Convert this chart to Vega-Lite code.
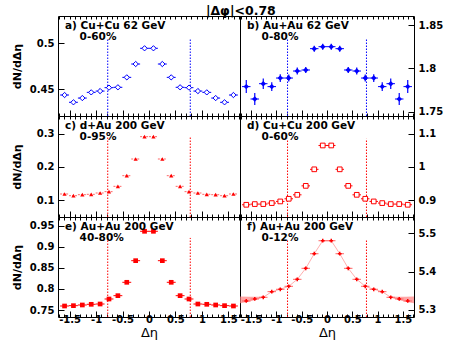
{
  "$schema": "https://vega.github.io/schema/vega-lite/v6.json",
  "background": "white",
  "padding": {"left": 10, "top": 4, "right": 5, "bottom": 5},
  "title": {"text": "|Δφ|<0.78", "font": "DejaVu Sans", "fontSize": 12.5, "fontWeight": "bold", "anchor": "middle", "frame": "bounds", "color": "black", "offset": -2, "dx": 14, "lineHeight": 13},
  "config": {
    "view": {"stroke": "black", "strokeWidth": 1},
    "font": "DejaVu Sans",
    "axis": {"labelFont": "DejaVu Sans", "labelFontWeight": "bold", "labelFontSize": 10, "labelColor": "black", "tickColor": "black", "grid": false, "domain": false, "titleFont": "DejaVu Sans", "titleColor": "black", "labelOverlap": false, "labelFlush": false, "labelBound": false}
  },
  "datasets": {
    "a": [
      {"x": -1.596, "y": 0.4438, "ex": 0.084, "ey": 0.0025}, {"x": -1.428, "y": 0.4359, "ex": 0.084, "ey": 0.0025}, {"x": -1.26, "y": 0.4405, "ex": 0.084, "ey": 0.0025}, {"x": -1.092, "y": 0.4467, "ex": 0.084, "ey": 0.0025}, {"x": -0.924, "y": 0.4481, "ex": 0.084, "ey": 0.0025},
      {"x": -0.756, "y": 0.4518, "ex": 0.084, "ey": 0.0025}, {"x": -0.588, "y": 0.4522, "ex": 0.084, "ey": 0.0025}, {"x": -0.42, "y": 0.463, "ex": 0.084, "ey": 0.0025}, {"x": -0.252, "y": 0.4775, "ex": 0.084, "ey": 0.0025}, {"x": -0.084, "y": 0.4946, "ex": 0.084, "ey": 0.0025},
      {"x": 0.084, "y": 0.4946, "ex": 0.084, "ey": 0.0025}, {"x": 0.252, "y": 0.4775, "ex": 0.084, "ey": 0.0025}, {"x": 0.42, "y": 0.463, "ex": 0.084, "ey": 0.0025}, {"x": 0.588, "y": 0.4522, "ex": 0.084, "ey": 0.0025}, {"x": 0.756, "y": 0.4518, "ex": 0.084, "ey": 0.0025},
      {"x": 0.924, "y": 0.4481, "ex": 0.084, "ey": 0.0025}, {"x": 1.092, "y": 0.4467, "ex": 0.084, "ey": 0.0025}, {"x": 1.26, "y": 0.4405, "ex": 0.084, "ey": 0.0025}, {"x": 1.428, "y": 0.4359, "ex": 0.084, "ey": 0.0025}, {"x": 1.596, "y": 0.4438, "ex": 0.084, "ey": 0.0025}
    ],
    "b": [
      {"x": -1.596, "y": 1.7789, "ex": 0.084, "ey": 0.0075}, {"x": -1.428, "y": 1.7646, "ex": 0.084, "ey": 0.007}, {"x": -1.26, "y": 1.7823, "ex": 0.084, "ey": 0.006}, {"x": -1.092, "y": 1.7789, "ex": 0.084, "ey": 0.005}, {"x": -0.924, "y": 1.7888, "ex": 0.084, "ey": 0.0045},
      {"x": -0.756, "y": 1.7888, "ex": 0.084, "ey": 0.004}, {"x": -0.588, "y": 1.7969, "ex": 0.084, "ey": 0.004}, {"x": -0.42, "y": 1.7981, "ex": 0.084, "ey": 0.0035}, {"x": -0.252, "y": 1.8227, "ex": 0.084, "ey": 0.0035}, {"x": -0.084, "y": 1.825, "ex": 0.084, "ey": 0.0035},
      {"x": 0.084, "y": 1.825, "ex": 0.084, "ey": 0.0035}, {"x": 0.252, "y": 1.8227, "ex": 0.084, "ey": 0.0035}, {"x": 0.42, "y": 1.7981, "ex": 0.084, "ey": 0.0035}, {"x": 0.588, "y": 1.7969, "ex": 0.084, "ey": 0.004}, {"x": 0.756, "y": 1.7888, "ex": 0.084, "ey": 0.004},
      {"x": 0.924, "y": 1.7888, "ex": 0.084, "ey": 0.0045}, {"x": 1.092, "y": 1.7789, "ex": 0.084, "ey": 0.005}, {"x": 1.26, "y": 1.7823, "ex": 0.084, "ey": 0.006}, {"x": 1.428, "y": 1.7646, "ex": 0.084, "ey": 0.007}, {"x": 1.596, "y": 1.7789, "ex": 0.084, "ey": 0.0075}
    ],
    "c": [
      {"x": -1.596, "y": 0.1182, "ex": 0.084}, {"x": -1.428, "y": 0.113, "ex": 0.084}, {"x": -1.26, "y": 0.1161, "ex": 0.084}, {"x": -1.092, "y": 0.1172, "ex": 0.084}, {"x": -0.924, "y": 0.1212, "ex": 0.084},
      {"x": -0.756, "y": 0.1253, "ex": 0.084}, {"x": -0.588, "y": 0.1414, "ex": 0.084}, {"x": -0.42, "y": 0.1737, "ex": 0.084}, {"x": -0.252, "y": 0.2242, "ex": 0.084}, {"x": -0.084, "y": 0.2919, "ex": 0.084},
      {"x": 0.084, "y": 0.2919, "ex": 0.084}, {"x": 0.252, "y": 0.2242, "ex": 0.084}, {"x": 0.42, "y": 0.1737, "ex": 0.084}, {"x": 0.588, "y": 0.1414, "ex": 0.084}, {"x": 0.756, "y": 0.1253, "ex": 0.084},
      {"x": 0.924, "y": 0.1212, "ex": 0.084}, {"x": 1.092, "y": 0.1172, "ex": 0.084}, {"x": 1.26, "y": 0.1161, "ex": 0.084}, {"x": 1.428, "y": 0.113, "ex": 0.084}, {"x": 1.596, "y": 0.1182, "ex": 0.084}
    ],
    "d": [
      {"x": -1.596, "y": 0.8859, "ex": 0.084}, {"x": -1.428, "y": 0.888, "ex": 0.084}, {"x": -1.26, "y": 0.888, "ex": 0.084}, {"x": -1.092, "y": 0.891, "ex": 0.084}, {"x": -0.924, "y": 0.896, "ex": 0.084},
      {"x": -0.756, "y": 0.904, "ex": 0.084}, {"x": -0.588, "y": 0.916, "ex": 0.084}, {"x": -0.42, "y": 0.943, "ex": 0.084}, {"x": -0.252, "y": 0.993, "ex": 0.084}, {"x": -0.084, "y": 1.065, "ex": 0.084},
      {"x": 0.084, "y": 1.065, "ex": 0.084}, {"x": 0.252, "y": 0.993, "ex": 0.084}, {"x": 0.42, "y": 0.943, "ex": 0.084}, {"x": 0.588, "y": 0.916, "ex": 0.084}, {"x": 0.756, "y": 0.904, "ex": 0.084},
      {"x": 0.924, "y": 0.896, "ex": 0.084}, {"x": 1.092, "y": 0.891, "ex": 0.084}, {"x": 1.26, "y": 0.888, "ex": 0.084}, {"x": 1.428, "y": 0.888, "ex": 0.084}, {"x": 1.596, "y": 0.8859, "ex": 0.084}
    ],
    "e": [
      {"x": -1.596, "y": 0.7595, "ex": 0.084}, {"x": -1.428, "y": 0.7603, "ex": 0.084}, {"x": -1.26, "y": 0.7619, "ex": 0.084}, {"x": -1.092, "y": 0.7635, "ex": 0.084}, {"x": -0.924, "y": 0.7642, "ex": 0.084},
      {"x": -0.756, "y": 0.7761, "ex": 0.084}, {"x": -0.588, "y": 0.784, "ex": 0.084}, {"x": -0.42, "y": 0.8157, "ex": 0.084}, {"x": -0.252, "y": 0.867, "ex": 0.084}, {"x": -0.084, "y": 0.9367, "ex": 0.084},
      {"x": 0.084, "y": 0.9367, "ex": 0.084}, {"x": 0.252, "y": 0.867, "ex": 0.084}, {"x": 0.42, "y": 0.8157, "ex": 0.084}, {"x": 0.588, "y": 0.784, "ex": 0.084}, {"x": 0.756, "y": 0.7761, "ex": 0.084},
      {"x": 0.924, "y": 0.7642, "ex": 0.084}, {"x": 1.092, "y": 0.7635, "ex": 0.084}, {"x": 1.26, "y": 0.7619, "ex": 0.084}, {"x": 1.428, "y": 0.7603, "ex": 0.084}, {"x": 1.596, "y": 0.7595, "ex": 0.084}
    ],
    "f": [
      {"x": -1.596, "y": 5.3235, "ex": 0.084}, {"x": -1.428, "y": 5.3287, "ex": 0.084}, {"x": -1.26, "y": 5.3331, "ex": 0.084}, {"x": -1.092, "y": 5.3478, "ex": 0.084}, {"x": -0.924, "y": 5.354, "ex": 0.084},
      {"x": -0.756, "y": 5.3618, "ex": 0.084}, {"x": -0.588, "y": 5.38, "ex": 0.084}, {"x": -0.42, "y": 5.4087, "ex": 0.084}, {"x": -0.252, "y": 5.4468, "ex": 0.084}, {"x": -0.084, "y": 5.4807, "ex": 0.084},
      {"x": 0.084, "y": 5.4807, "ex": 0.084}, {"x": 0.252, "y": 5.4468, "ex": 0.084}, {"x": 0.42, "y": 5.4087, "ex": 0.084}, {"x": 0.588, "y": 5.38, "ex": 0.084}, {"x": 0.756, "y": 5.3618, "ex": 0.084},
      {"x": 0.924, "y": 5.354, "ex": 0.084}, {"x": 1.092, "y": 5.3478, "ex": 0.084}, {"x": 1.26, "y": 5.3331, "ex": 0.084}, {"x": 1.428, "y": 5.3287, "ex": 0.084}, {"x": 1.596, "y": 5.3235, "ex": 0.084}
    ],
    "fband": [
      {"side": "L", "x": -1.72, "lo": 5.3175, "hi": 5.335}, {"side": "L", "x": -1.55, "lo": 5.3215, "hi": 5.3345}, {"side": "L", "x": -1.4, "lo": 5.327, "hi": 5.3345}, {"side": "L", "x": -1.25, "lo": 5.3332, "hi": 5.3348},
      {"side": "R", "x": 1.25, "lo": 5.3332, "hi": 5.3348}, {"side": "R", "x": 1.4, "lo": 5.327, "hi": 5.3345}, {"side": "R", "x": 1.55, "lo": 5.3215, "hi": 5.3345}, {"side": "R", "x": 1.72, "lo": 5.3175, "hi": 5.335}
    ],
    "la": [{"x": -0.78, "lo": 0.421, "hi": 0.5047}, {"x": 0.78, "lo": 0.421, "hi": 0.5047}],
    "lb": [{"x": -0.78, "lo": 1.745, "hi": 1.8347}, {"x": 0.78, "lo": 1.745, "hi": 1.8347}],
    "lc": [{"x": -0.78, "lo": 0.0485, "hi": 0.291}, {"x": 0.78, "lo": 0.0485, "hi": 0.291}],
    "ld": [{"x": -0.78, "lo": 0.849, "hi": 1.085}, {"x": 0.78, "lo": 0.849, "hi": 1.085}],
    "le": [{"x": -0.78, "lo": 0.7334, "hi": 0.921}, {"x": 0.78, "lo": 0.7334, "hi": 0.921}],
    "lf": [{"x": -0.78, "lo": 5.2817, "hi": 5.4825}, {"x": 0.78, "lo": 5.2817, "hi": 5.4825}]
  },
  "concat": [
    {
      "width": 182, "height": 100,
      "title": {"text": ["a) Cu+Cu 62 GeV", "\u200b\u00a0\u00a0\u00a0\u00a00-60%"], "anchor": "start", "frame": "group", "offset": -26.5, "dx": 7, "fontSize": 10.5, "fontWeight": "bold", "lineHeight": 11, "color": "black", "font": "DejaVu Sans"},
      "resolve": {"axis": {"x": "independent", "y": "independent"}},
      "layer": [
        {"data": {"name": "la"}, "mark": {"type": "rule", "color": "#0000ff", "strokeDash": [1.5, 1.5], "strokeWidth": 1},
         "encoding": {
           "x": {"field": "x", "type": "quantitative", "scale": {"domain": [-1.72, 1.72], "nice": false, "zero": false}, "axis": {"orient": "top", "values": [-1.7,-1.6,-1.5,-1.4,-1.3,-1.2,-1.1,-1,-0.9,-0.8,-0.7,-0.6,-0.5,-0.4,-0.3,-0.2,-0.1,0,0.1,0.2,0.3,0.4,0.5,0.6,0.7,0.8,0.9,1,1.1,1.2,1.3,1.4,1.5,1.6,1.7], "labels": false, "title": null, "tickSize": -3}},
           "y": {"field": "lo", "type": "quantitative", "scale": {"domain": [0.421, 0.5297], "nice": false, "zero": false}, "axis": null},
           "y2": {"field": "hi"}}},
        {"data": {"name": "a"}, "mark": {"type": "errorbar", "color": "#0000ff", "thickness": 1},
         "encoding": {"x": {"field": "x", "type": "quantitative", "scale": {"domain": [-1.72, 1.72], "nice": false, "zero": false}, "axis": null}, "xError": {"field": "ex"}, "y": {"field": "y", "type": "quantitative", "scale": {"domain": [0.421, 0.5297], "nice": false, "zero": false}, "axis": null}}},
        {"data": {"name": "a"}, "mark": {"type": "errorbar", "color": "#0000ff", "thickness": 1},
         "encoding": {"y": {"field": "y", "type": "quantitative", "scale": {"domain": [0.421, 0.5297], "nice": false, "zero": false}, "axis": null}, "yError": {"field": "ey"}, "x": {"field": "x", "type": "quantitative", "scale": {"domain": [-1.72, 1.72], "nice": false, "zero": false}, "axis": null}}},
        {"data": {"name": "a"}, "mark": {"type": "point", "shape": "diamond", "filled": true, "fill": "white", "stroke": "#0000ff", "strokeWidth": 1, "size": 28, "opacity": 1},
         "encoding": {
           "x": {"field": "x", "type": "quantitative", "scale": {"domain": [-1.72, 1.72], "nice": false, "zero": false}, "axis": {"orient": "bottom", "values": [-1.7,-1.6,-1.5,-1.4,-1.3,-1.2,-1.1,-1,-0.9,-0.8,-0.7,-0.6,-0.5,-0.4,-0.3,-0.2,-0.1,0,0.1,0.2,0.3,0.4,0.5,0.6,0.7,0.8,0.9,1,1.1,1.2,1.3,1.4,1.5,1.6,1.7], "labels": false, "title": null, "tickSize": {"condition": {"test": "abs(datum.value*2 - round(datum.value*2)) < 0.001", "value": -6}, "value": -3}}},
           "y": {"field": "y", "type": "quantitative", "scale": {"domain": [0.421, 0.5297], "nice": false, "zero": false}, "axis": {"orient": "left", "values": [0.45, 0.5], "labelExpr": "''+datum.value", "tickSize": -6, "labelPadding": 10, "title": "dN/dΔη", "titleFontSize": 11, "titleFontWeight": "bold", "minExtent": 30, "maxExtent": 30, "titlePadding": 6}}}}
      ]
    },
    {
      "width": 174, "height": 100,
      "title": {"text": ["b) Au+Au 62 GeV", "\u200b\u00a0\u00a0\u00a0\u00a00-80%"], "anchor": "start", "frame": "group", "offset": -26.5, "dx": 7, "fontSize": 10.5, "fontWeight": "bold", "lineHeight": 11, "color": "black", "font": "DejaVu Sans"},
      "resolve": {"axis": {"x": "independent", "y": "independent"}},
      "layer": [
        {"data": {"name": "lb"}, "mark": {"type": "rule", "color": "#0000ff", "strokeDash": [1.5, 1.5], "strokeWidth": 1},
         "encoding": {
           "x": {"field": "x", "type": "quantitative", "scale": {"domain": [-1.72, 1.72], "nice": false, "zero": false}, "axis": {"orient": "top", "values": [-1.7,-1.6,-1.5,-1.4,-1.3,-1.2,-1.1,-1,-0.9,-0.8,-0.7,-0.6,-0.5,-0.4,-0.3,-0.2,-0.1,0,0.1,0.2,0.3,0.4,0.5,0.6,0.7,0.8,0.9,1,1.1,1.2,1.3,1.4,1.5,1.6,1.7], "labels": false, "title": null, "tickSize": -3}},
           "y": {"field": "lo", "type": "quantitative", "scale": {"domain": [1.745, 1.8604], "nice": false, "zero": false}, "axis": null},
           "y2": {"field": "hi"}}},
        {"data": {"name": "b"}, "mark": {"type": "errorbar", "color": "#0000ff", "thickness": 1},
         "encoding": {"x": {"field": "x", "type": "quantitative", "scale": {"domain": [-1.72, 1.72], "nice": false, "zero": false}, "axis": null}, "xError": {"field": "ex"}, "y": {"field": "y", "type": "quantitative", "scale": {"domain": [1.745, 1.8604], "nice": false, "zero": false}, "axis": null}}},
        {"data": {"name": "b"}, "mark": {"type": "errorbar", "color": "#0000ff", "thickness": 1.2},
         "encoding": {"y": {"field": "y", "type": "quantitative", "scale": {"domain": [1.745, 1.8604], "nice": false, "zero": false}, "axis": null}, "yError": {"field": "ey"}, "x": {"field": "x", "type": "quantitative", "scale": {"domain": [-1.72, 1.72], "nice": false, "zero": false}, "axis": null}}},
        {"data": {"name": "b"}, "mark": {"type": "point", "shape": "diamond", "filled": true, "color": "#0000ff", "size": 30, "opacity": 1},
         "encoding": {
           "x": {"field": "x", "type": "quantitative", "scale": {"domain": [-1.72, 1.72], "nice": false, "zero": false}, "axis": {"orient": "bottom", "values": [-1.7,-1.6,-1.5,-1.4,-1.3,-1.2,-1.1,-1,-0.9,-0.8,-0.7,-0.6,-0.5,-0.4,-0.3,-0.2,-0.1,0,0.1,0.2,0.3,0.4,0.5,0.6,0.7,0.8,0.9,1,1.1,1.2,1.3,1.4,1.5,1.6,1.7], "labels": false, "title": null, "tickSize": {"condition": {"test": "abs(datum.value*2 - round(datum.value*2)) < 0.001", "value": -6}, "value": -3}}},
           "y": {"field": "y", "type": "quantitative", "scale": {"domain": [1.745, 1.8604], "nice": false, "zero": false}, "axis": {"orient": "right", "values": [1.75, 1.8, 1.85], "labelExpr": "''+datum.value", "tickSize": -6, "labelPadding": 10, "title": null}}}}
      ]
    },
    {
      "width": 182, "height": 101,
      "title": {"text": ["c) d+Au 200 GeV", "\u200b\u00a0\u00a0\u00a0\u00a00-95%"], "anchor": "start", "frame": "group", "offset": -26.5, "dx": 7, "fontSize": 10.5, "fontWeight": "bold", "lineHeight": 11, "color": "black", "font": "DejaVu Sans"},
      "resolve": {"axis": {"x": "independent", "y": "independent"}},
      "layer": [
        {"data": {"name": "lc"}, "mark": {"type": "rule", "color": "#ff0000", "strokeDash": [1.5, 1.5], "strokeWidth": 1},
         "encoding": {
           "x": {"field": "x", "type": "quantitative", "scale": {"domain": [-1.72, 1.72], "nice": false, "zero": false}, "axis": {"orient": "top", "values": [-1.7,-1.6,-1.5,-1.4,-1.3,-1.2,-1.1,-1,-0.9,-0.8,-0.7,-0.6,-0.5,-0.4,-0.3,-0.2,-0.1,0,0.1,0.2,0.3,0.4,0.5,0.6,0.7,0.8,0.9,1,1.1,1.2,1.3,1.4,1.5,1.6,1.7], "labels": false, "title": null, "tickSize": -3}},
           "y": {"field": "lo", "type": "quantitative", "scale": {"domain": [0.0485, 0.3545], "nice": false, "zero": false}, "axis": null},
           "y2": {"field": "hi"}}},
        {"data": {"name": "c"}, "mark": {"type": "errorbar", "color": "#ff6666", "thickness": 1, "rule": {"strokeDash": [2, 1]}},
         "encoding": {"x": {"field": "x", "type": "quantitative", "scale": {"domain": [-1.72, 1.72], "nice": false, "zero": false}, "axis": null}, "xError": {"field": "ex"}, "y": {"field": "y", "type": "quantitative", "scale": {"domain": [0.0485, 0.3545], "nice": false, "zero": false}, "axis": null}}},
        {"data": {"name": "c"}, "mark": {"type": "point", "shape": "triangle-up", "filled": true, "color": "#ff0000", "size": 18, "opacity": 1},
         "encoding": {
           "x": {"field": "x", "type": "quantitative", "scale": {"domain": [-1.72, 1.72], "nice": false, "zero": false}, "axis": {"orient": "bottom", "values": [-1.7,-1.6,-1.5,-1.4,-1.3,-1.2,-1.1,-1,-0.9,-0.8,-0.7,-0.6,-0.5,-0.4,-0.3,-0.2,-0.1,0,0.1,0.2,0.3,0.4,0.5,0.6,0.7,0.8,0.9,1,1.1,1.2,1.3,1.4,1.5,1.6,1.7], "labels": false, "title": null, "tickSize": {"condition": {"test": "abs(datum.value*2 - round(datum.value*2)) < 0.001", "value": -6}, "value": -3}}},
           "y": {"field": "y", "type": "quantitative", "scale": {"domain": [0.0485, 0.3545], "nice": false, "zero": false}, "axis": {"orient": "left", "values": [0.1, 0.2, 0.3], "labelExpr": "''+datum.value", "tickSize": -6, "labelPadding": 10, "title": "dN/dΔη", "titleFontSize": 11, "titleFontWeight": "bold", "minExtent": 30, "maxExtent": 30, "titlePadding": 6}}}}
      ]
    },
    {
      "width": 174, "height": 101,
      "title": {"text": ["d) Cu+Cu 200 GeV", "\u200b\u00a0\u00a0\u00a0\u00a00-60%"], "anchor": "start", "frame": "group", "offset": -26.5, "dx": 7, "fontSize": 10.5, "fontWeight": "bold", "lineHeight": 11, "color": "black", "font": "DejaVu Sans"},
      "resolve": {"axis": {"x": "independent", "y": "independent"}},
      "layer": [
        {"data": {"name": "ld"}, "mark": {"type": "rule", "color": "#ff0000", "strokeDash": [1.5, 1.5], "strokeWidth": 1},
         "encoding": {
           "x": {"field": "x", "type": "quantitative", "scale": {"domain": [-1.72, 1.72], "nice": false, "zero": false}, "axis": {"orient": "top", "values": [-1.7,-1.6,-1.5,-1.4,-1.3,-1.2,-1.1,-1,-0.9,-0.8,-0.7,-0.6,-0.5,-0.4,-0.3,-0.2,-0.1,0,0.1,0.2,0.3,0.4,0.5,0.6,0.7,0.8,0.9,1,1.1,1.2,1.3,1.4,1.5,1.6,1.7], "labels": false, "title": null, "tickSize": -3}},
           "y": {"field": "lo", "type": "quantitative", "scale": {"domain": [0.849, 1.154], "nice": false, "zero": false}, "axis": null},
           "y2": {"field": "hi"}}},
        {"data": {"name": "d"}, "mark": {"type": "errorbar", "color": "#ff0000", "thickness": 1},
         "encoding": {"x": {"field": "x", "type": "quantitative", "scale": {"domain": [-1.72, 1.72], "nice": false, "zero": false}, "axis": null}, "xError": {"field": "ex"}, "y": {"field": "y", "type": "quantitative", "scale": {"domain": [0.849, 1.154], "nice": false, "zero": false}, "axis": null}}},
        {"data": {"name": "d"}, "mark": {"type": "point", "shape": "square", "filled": true, "fill": "white", "stroke": "#ff0000", "strokeWidth": 1, "size": 22, "opacity": 1},
         "encoding": {
           "x": {"field": "x", "type": "quantitative", "scale": {"domain": [-1.72, 1.72], "nice": false, "zero": false}, "axis": {"orient": "bottom", "values": [-1.7,-1.6,-1.5,-1.4,-1.3,-1.2,-1.1,-1,-0.9,-0.8,-0.7,-0.6,-0.5,-0.4,-0.3,-0.2,-0.1,0,0.1,0.2,0.3,0.4,0.5,0.6,0.7,0.8,0.9,1,1.1,1.2,1.3,1.4,1.5,1.6,1.7], "labels": false, "title": null, "tickSize": {"condition": {"test": "abs(datum.value*2 - round(datum.value*2)) < 0.001", "value": -6}, "value": -3}}},
           "y": {"field": "y", "type": "quantitative", "scale": {"domain": [0.849, 1.154], "nice": false, "zero": false}, "axis": {"orient": "right", "values": [0.9, 1, 1.1], "labelExpr": "''+datum.value", "tickSize": -6, "labelPadding": 10, "title": null}}}}
      ]
    },
    {
      "width": 182, "height": 100,
      "title": {"text": ["e) Au+Au 200 GeV", "\u200b\u00a0\u00a0\u00a0\u00a040-80%"], "anchor": "start", "frame": "group", "offset": -26.5, "dx": 7, "fontSize": 10.5, "fontWeight": "bold", "lineHeight": 11, "color": "black", "font": "DejaVu Sans"},
      "resolve": {"axis": {"x": "independent", "y": "independent"}},
      "layer": [
        {"data": {"name": "le"}, "mark": {"type": "rule", "color": "#ff0000", "strokeDash": [1.5, 1.5], "strokeWidth": 1},
         "encoding": {
           "x": {"field": "x", "type": "quantitative", "scale": {"domain": [-1.72, 1.72], "nice": false, "zero": false}, "axis": {"orient": "top", "values": [-1.7,-1.6,-1.5,-1.4,-1.3,-1.2,-1.1,-1,-0.9,-0.8,-0.7,-0.6,-0.5,-0.4,-0.3,-0.2,-0.1,0,0.1,0.2,0.3,0.4,0.5,0.6,0.7,0.8,0.9,1,1.1,1.2,1.3,1.4,1.5,1.6,1.7], "labels": false, "title": null, "tickSize": -3}},
           "y": {"field": "lo", "type": "quantitative", "scale": {"domain": [0.7334, 0.9706], "nice": false, "zero": false}, "axis": null},
           "y2": {"field": "hi"}}},
        {"data": {"name": "e"}, "mark": {"type": "errorbar", "color": "#ff0000", "thickness": 1},
         "encoding": {"x": {"field": "x", "type": "quantitative", "scale": {"domain": [-1.72, 1.72], "nice": false, "zero": false}, "axis": null}, "xError": {"field": "ex"}, "y": {"field": "y", "type": "quantitative", "scale": {"domain": [0.7334, 0.9706], "nice": false, "zero": false}, "axis": null}}},
        {"data": {"name": "e"}, "mark": {"type": "point", "shape": "square", "filled": true, "color": "#ff0000", "size": 22, "opacity": 1},
         "encoding": {
           "x": {"field": "x", "type": "quantitative", "scale": {"domain": [-1.72, 1.72], "nice": false, "zero": false}, "axis": {"orient": "bottom", "values": [-1.7,-1.6,-1.5,-1.4,-1.3,-1.2,-1.1,-1,-0.9,-0.8,-0.7,-0.6,-0.5,-0.4,-0.3,-0.2,-0.1,0,0.1,0.2,0.3,0.4,0.5,0.6,0.7,0.8,0.9,1,1.1,1.2,1.3,1.4,1.5,1.6,1.7], "labelExpr": "abs(datum.value*2 - round(datum.value*2)) < 0.001 ? ''+datum.value : ''", "labelPadding": 3, "title": "Δη", "titleFontSize": 13, "titleFontWeight": "normal", "titlePadding": -1, "tickSize": {"condition": {"test": "abs(datum.value*2 - round(datum.value*2)) < 0.001", "value": -6}, "value": -3}}},
           "y": {"field": "y", "type": "quantitative", "scale": {"domain": [0.7334, 0.9706], "nice": false, "zero": false}, "axis": {"orient": "left", "values": [0.75, 0.8, 0.85, 0.9, 0.95], "labelExpr": "''+datum.value", "tickSize": -6, "labelPadding": 10, "title": "dN/dΔη", "titleFontSize": 11, "titleFontWeight": "bold", "minExtent": 30, "maxExtent": 30, "titlePadding": 6}}}}
      ]
    },
    {
      "width": 174, "height": 100,
      "title": {"text": ["f) Au+Au 200 GeV", "\u200b\u00a0\u00a0\u00a0\u00a00-12%"], "anchor": "start", "frame": "group", "offset": -26.5, "dx": 7, "fontSize": 10.5, "fontWeight": "bold", "lineHeight": 11, "color": "black", "font": "DejaVu Sans"},
      "resolve": {"axis": {"x": "independent", "y": "independent"}},
      "layer": [
        {"data": {"name": "lf"}, "mark": {"type": "rule", "color": "#ff0000", "strokeDash": [1.5, 1.5], "strokeWidth": 1},
         "encoding": {
           "x": {"field": "x", "type": "quantitative", "scale": {"domain": [-1.72, 1.72], "nice": false, "zero": false}, "axis": {"orient": "top", "values": [-1.7,-1.6,-1.5,-1.4,-1.3,-1.2,-1.1,-1,-0.9,-0.8,-0.7,-0.6,-0.5,-0.4,-0.3,-0.2,-0.1,0,0.1,0.2,0.3,0.4,0.5,0.6,0.7,0.8,0.9,1,1.1,1.2,1.3,1.4,1.5,1.6,1.7], "labels": false, "title": null, "tickSize": -3}},
           "y": {"field": "lo", "type": "quantitative", "scale": {"domain": [5.2817, 5.5426], "nice": false, "zero": false}, "axis": null},
           "y2": {"field": "hi"}}},
        {"data": {"name": "fband"}, "mark": {"type": "area", "color": "#ff8080", "opacity": 0.7},
         "encoding": {"x": {"field": "x", "type": "quantitative", "scale": {"domain": [-1.72, 1.72], "nice": false, "zero": false}, "axis": null}, "y": {"field": "lo", "type": "quantitative", "scale": {"domain": [5.2817, 5.5426], "nice": false, "zero": false}, "axis": null}, "y2": {"field": "hi"}, "detail": {"field": "side"}}},
        {"data": {"name": "f"}, "mark": {"type": "line", "color": "#ff9999", "strokeWidth": 0.8},
         "encoding": {"x": {"field": "x", "type": "quantitative", "scale": {"domain": [-1.72, 1.72], "nice": false, "zero": false}, "axis": null}, "y": {"field": "y", "type": "quantitative", "scale": {"domain": [5.2817, 5.5426], "nice": false, "zero": false}, "axis": null}}},
        {"data": {"name": "f"}, "mark": {"type": "errorbar", "color": "#ff6666", "thickness": 1},
         "encoding": {"x": {"field": "x", "type": "quantitative", "scale": {"domain": [-1.72, 1.72], "nice": false, "zero": false}, "axis": null}, "xError": {"field": "ex"}, "y": {"field": "y", "type": "quantitative", "scale": {"domain": [5.2817, 5.5426], "nice": false, "zero": false}, "axis": null}}},
        {"data": {"name": "f"}, "mark": {"type": "point", "shape": "cross", "filled": true, "color": "#ff0000", "size": 14, "opacity": 1},
         "encoding": {
           "x": {"field": "x", "type": "quantitative", "scale": {"domain": [-1.72, 1.72], "nice": false, "zero": false}, "axis": {"orient": "bottom", "values": [-1.7,-1.6,-1.5,-1.4,-1.3,-1.2,-1.1,-1,-0.9,-0.8,-0.7,-0.6,-0.5,-0.4,-0.3,-0.2,-0.1,0,0.1,0.2,0.3,0.4,0.5,0.6,0.7,0.8,0.9,1,1.1,1.2,1.3,1.4,1.5,1.6,1.7], "labelExpr": "abs(datum.value*2 - round(datum.value*2)) < 0.001 ? ''+datum.value : ''", "labelPadding": 3, "title": "Δη", "titleFontSize": 13, "titleFontWeight": "normal", "titlePadding": -1, "tickSize": {"condition": {"test": "abs(datum.value*2 - round(datum.value*2)) < 0.001", "value": -6}, "value": -3}}},
           "y": {"field": "y", "type": "quantitative", "scale": {"domain": [5.2817, 5.5426], "nice": false, "zero": false}, "axis": {"orient": "right", "values": [5.3, 5.4, 5.5], "labelExpr": "''+datum.value", "tickSize": -6, "labelPadding": 10, "title": null}}}}
      ]
    }
  ],
  "columns": 2,
  "spacing": 0,
  "bounds": "flush",
  "align": "each"
}
